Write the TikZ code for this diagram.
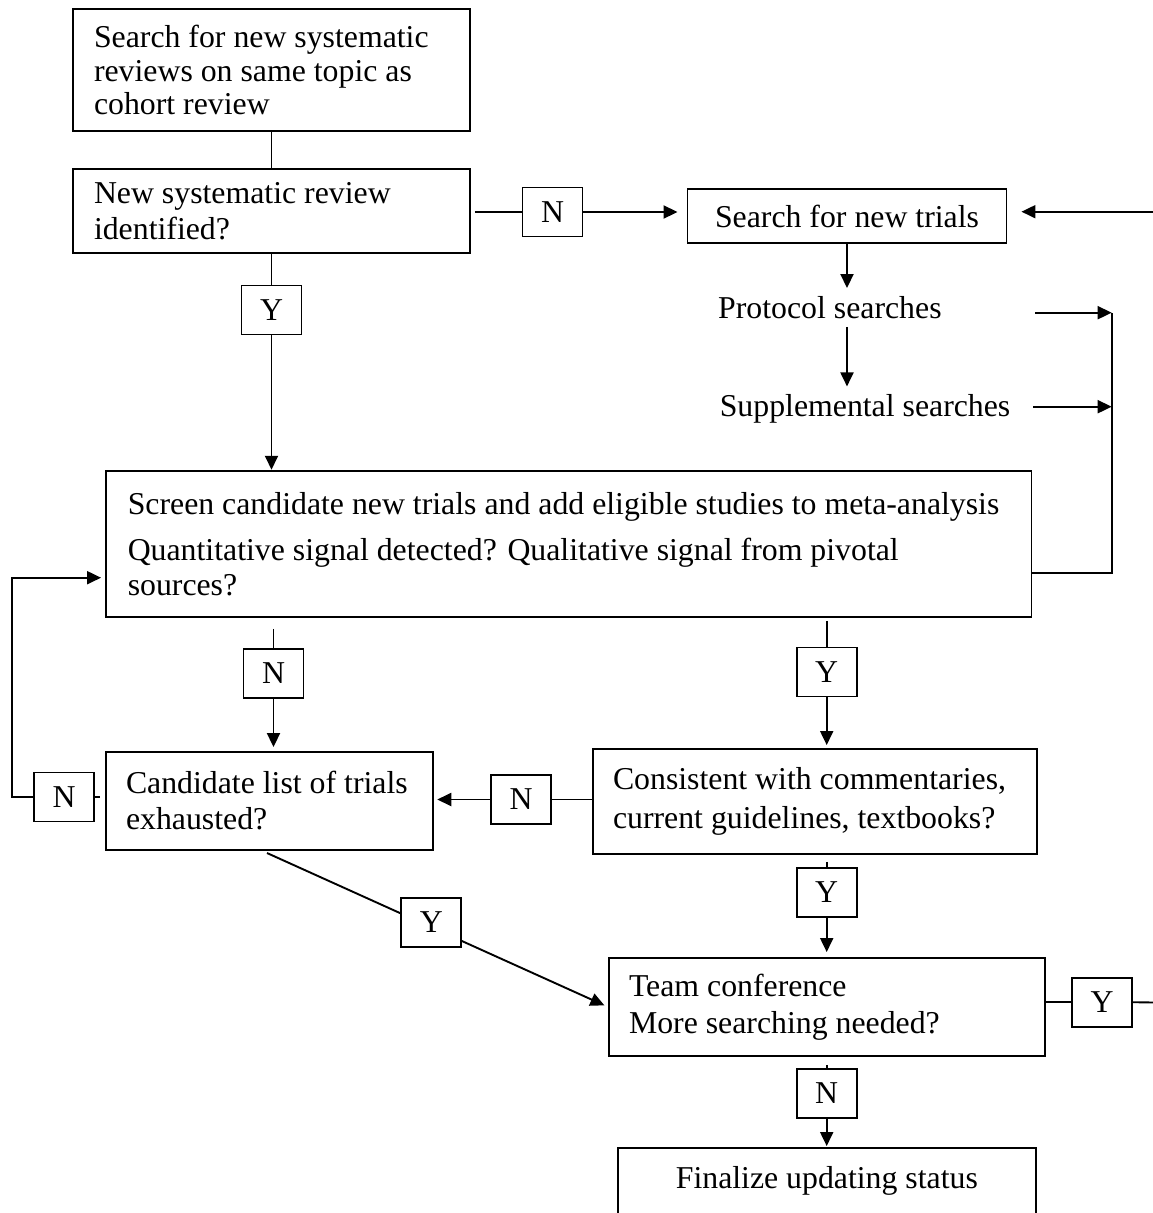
\documentclass[tikz,border=0pt]{standalone}
\usepackage{fontspec}
\setmainfont{Liberation Serif}
\usetikzlibrary{arrows.meta,calc}
\tikzset{
  fs/.style={font=\fontsize{31.8pt}{#1}\selectfont},
  box/.style={draw, line width=1.9pt, inner ysep=0pt, align=flush left},
  yn/.style={draw, line width=1.9pt, minimum width=60pt, minimum height=49pt, inner sep=0pt, fill=white, fs=35pt},
  ln/.style={line width=1.9pt},
  arr/.style={line width=1.9pt, -{Triangle[length=14pt,width=13pt]}},
  plain/.style={inner xsep=0pt, inner ysep=8pt, fs=35pt}
}
\begin{document}
\begin{tikzpicture}[x=1pt,y=-1pt]
\fill[white] (0,0) rectangle (1153,1213);
\useasboundingbox (0,0) rectangle (1153,1213);

% main boxes
\node[box, fs=33.5pt, minimum width=397pt, minimum height=122pt, inner xsep=21pt, text width=355pt] (A) at (271.5,70)
  {Search for new systematic\\reviews on same topic as\\cohort review};
\node[box, fs=36pt, minimum width=397pt, minimum height=84pt, inner xsep=21pt, text width=355pt] (B) at (271.5,211)
  {New systematic review\\identified?};
\node[box, fs=35pt, minimum width=319pt, minimum height=53.4pt, align=center] (S) at (847,216)
  {Search for new trials};
\node[plain, anchor=base west] (P) at (718,318.3) {Protocol searches};
\node[plain, anchor=base west] (Q) at (719.6,416.7) {Supplemental searches};
\node[box, fs=35pt, minimum width=925.5pt, minimum height=146.3pt, inner xsep=21.7pt, text width=882pt] (SC) at (568.75,543.85)
  {\mbox{Screen candidate new trials and add eligible studies to meta-analysis}\\[10.7pt]Quantitative signal detected? Qualitative signal from pivotal\\sources?};
\node[box, fs=36pt, minimum width=327.3pt, minimum height=98pt, inner xsep=20pt, text width=287.3pt] (C) at (269.65,801)
  {\mbox{Candidate list of trials}\\exhausted?};
\node[box, fs=38.5pt, minimum width=444pt, minimum height=105pt, inner xsep=20.3pt, text width=403.4pt] (K) at (814.7,801.5)
  {\mbox{Consistent with commentaries,}\\current guidelines, textbooks?};
\node[box, fs=37pt, minimum width=436pt, minimum height=98pt, inner xsep=20pt, text width=396pt] (T) at (827,1007)
  {Team conference\\More searching needed?};
\node[box, fs=35pt, anchor=base, minimum width=417.7pt, text height=40pt, text depth=60pt, align=center] (F) at (826.85,1188)
  {Finalize updating status};

% Y/N boxes
\node[yn] (yB) at (271.5,310) {Y};
\node[yn] (nB) at (552.5,212) {N};
\node[yn] (nS) at (273.5,673.5) {N};
\node[yn] (yS) at (826.7,672) {Y};
\node[yn] (nC) at (64,797) {N};
\node[yn] (nK) at (521.2,799.5) {N};
\node[yn] (yK) at (826.7,892.5) {Y};
\node[yn] (yT) at (1102.2,1002.2) {Y};
\node[yn] (nT) at (826.7,1093.5) {N};

% helper coordinates
\coordinate (rin) at (1160,211.7);
\coordinate (pa) at (1035,312.7);
\coordinate (sa) at (1033,406.7);
\coordinate (busT) at (1111.7,313);
\coordinate (busB) at (1111.7,573);
\coordinate (lp) at (12,577.7);
\coordinate (rout) at (1160,1002.6);
\coordinate (dstart) at (267,853);

% connectors
\draw[ln] (A.south) -- (B.north);
\draw[ln] (B.south) -- (yB.north);
\draw[arr] (yB.south) -- (yB.south |- SC.north);
\draw[ln, shorten <=4pt] (B.east |- nB.west) -- (nB.west);
\draw[arr, shorten >=9pt] (nB.east) -- (nB.east -| S.west);
\draw[arr, shorten >=14pt] (rin) -- (rin -| S.east);
\draw[arr] (S.south) -- (S.south |- P.north);
\draw[arr] (S.south |- P.south) -- (S.south |- Q.north);
\draw[arr] (pa) -- (pa -| busT);
\draw[arr] (sa) -- (sa -| busT);
\draw[ln] (SC.east |- busB) -- (busB) -- (busT);

\draw[ln, shorten <=11pt] (nS.north |- SC.south) -- (nS.north);
\draw[arr, shorten >=4pt] (nS.south) -- (nS.south |- C.north);
\draw[ln, shorten <=3pt] (yS.north |- SC.south) -- (yS.north);
\draw[arr, shorten >=3pt] (yS.south) -- (yS.south |- K.north);

\draw[ln] (nK.east -| K.west) -- (nK.east);
\draw[arr, shorten >=3pt] (nK.west) -- (nK.west -| C.east);
\draw[ln, shorten >=5pt] (nC.east) -- (nC.east -| C.west);
\draw[arr, shorten >=4pt] (nC.west) -| (lp) -- (lp -| SC.west);

\draw[ln, shorten <=7pt] (yK.north |- K.south) -- (yK.north);
\draw[arr, shorten >=5pt] (yK.south) -- (yK.south |- T.north);
\draw[ln] (yT.west -| T.east) -- (yT.west);
\draw[ln] (yT.east) -- (rout);
\draw[ln, shorten <=8pt] (nT.north |- T.south) -- (nT.north);
\draw[arr, shorten >=1pt] (nT.south) -- (nT.south |- F.north);

\draw[arr, shorten >=4pt] (dstart) -- node[yn, pos=0.482, yshift=5.1pt] (yD) {Y} (T.west);
\end{tikzpicture}
\end{document}
